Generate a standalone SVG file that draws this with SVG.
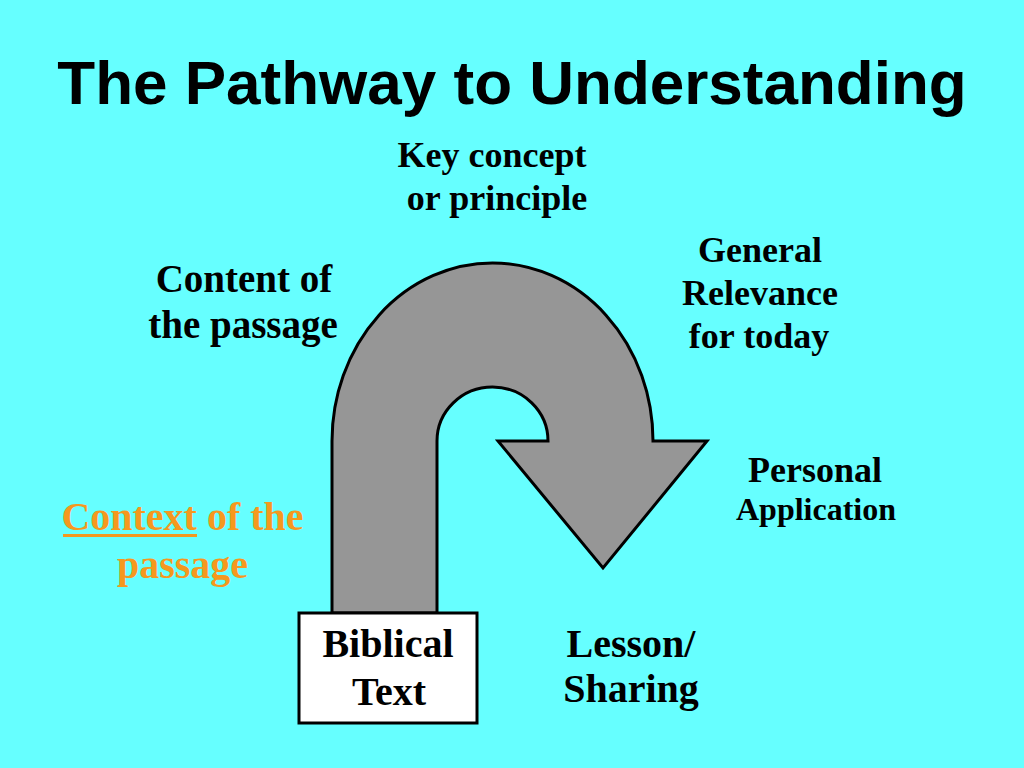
<svg xmlns="http://www.w3.org/2000/svg" width="1024" height="768" viewBox="0 0 1024 768">
<style>
.t{font-family:"Liberation Serif","Times New Roman",serif;font-weight:bold;fill:#000;text-anchor:middle}
.o{fill:#F5981E}
</style>
<rect width="1024" height="768" fill="#66FFFF"/>
<text x="512" y="104" font-family="Liberation Sans, Arial, sans-serif" font-weight="bold" font-size="62" text-anchor="middle" fill="#000">The Pathway to Understanding</text>
<g id="connectors">
<path id="uturn" d="M332,613 L332,441 A160.5,178 0 0 1 653,441 L707,441 L603,568 L498,441 L548,441 A55.5,54 0 0 0 437,441 L437,613 Z" fill="#969696" stroke="#000" stroke-width="3" stroke-linejoin="miter"/>
</g>
<g id="biblical-text">
<rect x="299" y="613" width="178" height="110" fill="#fff" stroke="#000" stroke-width="3"/>
<text class="t" x="388" y="657" font-size="40">Biblical</text>
<text class="t" x="389" y="705" font-size="40">Text</text>
</g>
<g id="key-concept">
<text class="t" x="492" y="167" font-size="36">Key concept</text>
<text class="t" x="497" y="210" font-size="36">or principle</text>
</g>
<g id="content">
<text class="t" x="244" y="292" font-size="39">Content of</text>
<text class="t" x="243" y="338" font-size="39">the passage</text>
</g>
<g id="general-relevance">
<text class="t" x="760" y="262" font-size="36">General</text>
<text class="t" x="760" y="305" font-size="36">Relevance</text>
<text class="t" x="759" y="348" font-size="36">for today</text>
</g>
<g id="personal-application">
<text class="t" x="815" y="482" font-size="36">Personal</text>
<text class="t" x="816" y="520" font-size="32">Application</text>
</g>
<g id="context">
<text class="t o" x="182.5" y="530" font-size="40">Context of the</text>
<rect x="63" y="534" width="134" height="3" fill="#F5981E"/>
<text class="t o" x="182.5" y="578" font-size="40">passage</text>
</g>
<g id="lesson">
<text class="t" x="631" y="657" font-size="40">Lesson/</text>
<text class="t" x="631" y="702" font-size="40">Sharing</text>
</g>
</svg>
